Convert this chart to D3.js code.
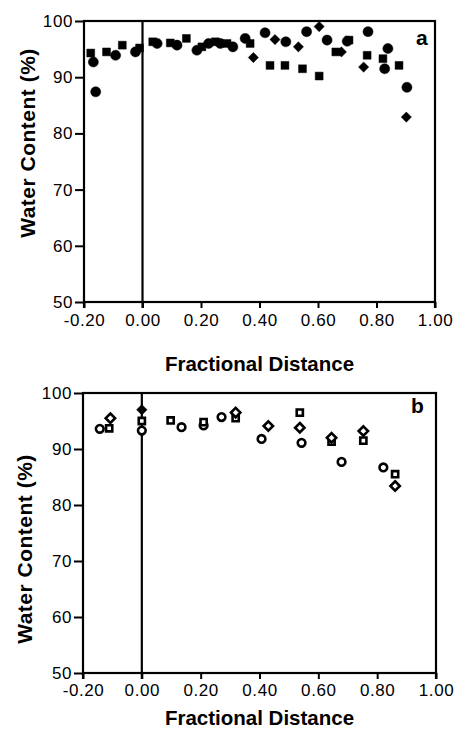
<!DOCTYPE html>
<html><head><meta charset="utf-8">
<script src="https://cdn.jsdelivr.net/npm/d3@7"></script>
<style>
html,body{margin:0;padding:0;background:#fff;}
svg{display:block;}
text{font-family:"Liberation Sans",Arial,Helvetica,sans-serif;fill:#000;}
</style></head>
<body>
<svg id="chart" width="456" height="740"></svg>
<script>
// ---- data ----
const xTicks = [-0.2, 0, 0.2, 0.4, 0.6, 0.8, 1.0];
const xTickLabels = ["-0.20", "0.00", "0.20", "0.40", "0.60", "0.80", "1.00"];
const yTicks = [50, 60, 70, 80, 90, 100];
const yTickLabels = ["50", "60", "70", "80", "90", "100"];
const xTitle = "Fractional Distance";
const yTitle = "Water Content (%)";

// panel a (filled symbols): [fractional distance, water content]
const aCircles = [[-0.168,92.7],[-0.160,87.4],[-0.092,93.9],[-0.024,94.5],[0.050,96.0],[0.118,95.7],[0.186,94.8],[0.226,96.0],[0.266,96.0],[0.309,95.4],[0.351,96.9],[0.419,97.9],[0.490,96.3],[0.561,98.1],[0.631,96.6],[0.700,96.4],[0.771,98.1],[0.839,95.1],[0.828,91.5],[0.904,88.2]];
const aSquares = [[-0.177,94.3],[-0.123,94.5],[-0.069,95.7],[-0.010,95.2],[0.035,96.3],[0.095,96.1],[0.150,96.9],[0.203,95.4],[0.249,96.3],[0.289,96.0],[0.368,96.0],[0.436,92.1],[0.487,92.1],[0.547,91.5],[0.604,90.2],[0.661,94.5],[0.706,96.6],[0.768,93.9],[0.822,93.3],[0.877,92.1]];
const aDiamonds = [[0.379,93.5],[0.453,96.7],[0.533,95.4],[0.604,99.0],[0.680,94.5],[0.756,91.8],[0.902,82.9]];

// panel b (open symbols)
const bCircles = [[-0.143,93.6],[0.000,93.3],[0.135,93.9],[0.210,94.2],[0.271,95.7],[0.407,91.8],[0.543,91.1],[0.679,87.7],[0.821,86.7]];
const bSquares = [[-0.111,93.7],[0.000,95.0],[0.098,95.1],[0.210,94.8],[0.319,95.5],[0.537,96.5],[0.645,91.3],[0.753,91.5],[0.861,85.5]];
const bDiamonds = [[-0.107,95.5],[0.319,96.5],[0.430,94.1],[0.537,93.8],[0.645,92.0],[0.753,93.2],[0.861,83.4]];
const bFilledDiamonds = [[0.000,97.0]];

// ---- drawing ----
const svg = d3.select("#chart");
const diamondType = {draw(ctx, size){ const r = Math.sqrt(size/2); ctx.moveTo(0,-r); ctx.lineTo(r,0); ctx.lineTo(0,r); ctx.lineTo(-r,0); ctx.closePath(); }};

function panel(cfg){
  const g = svg.append("g");
  const x = d3.scaleLinear().domain([-0.2, 1.0]).range([cfg.left, cfg.right]);
  const y = d3.scaleLinear().domain([50, 100]).range([cfg.bottom, cfg.top]);

  // x axis
  const xa = g.append("g").attr("transform", `translate(0,${cfg.bottom})`)
    .call(d3.axisBottom(x).tickValues(xTicks).tickFormat((d,i)=>xTickLabels[i]).tickSize(6).tickPadding(cfg.xPad).tickSizeOuter(0));
  xa.select(".domain").remove();
  xa.selectAll("line").attr("stroke","#000").attr("stroke-width",2);
  xa.selectAll("text").attr("font-size","17px").style("letter-spacing","0.6px");

  // y axis
  const ya = g.append("g").attr("transform", `translate(${cfg.left},0)`)
    .call(d3.axisLeft(y).tickValues(yTicks).tickFormat((d,i)=>yTickLabels[i]).tickSize(9).tickPadding(2).tickSizeOuter(0));
  ya.select(".domain").remove();
  ya.selectAll("line").attr("stroke","#000").attr("stroke-width",2);
  ya.selectAll("text").attr("font-size","17px").style("letter-spacing","0.6px");

  // frame
  g.append("rect").attr("x",x(-0.2)).attr("y",y(100)).attr("width",x(1)-x(-0.2)).attr("height",y(50)-y(100))
    .attr("fill","none").attr("stroke","#000").attr("stroke-width",2.2);
  [ -0.2, 1.0 ].forEach(v=>{
    g.append("line").attr("x1",x(v)).attr("x2",x(v)).attr("y1",y(50)).attr("y2",y(50)+6).attr("stroke","#000").attr("stroke-width",2.2);
  });
  // vertical line at 0
  g.append("line").attr("x1",x(0)).attr("x2",x(0)).attr("y1",y(100)).attr("y2",y(50)+6).attr("stroke","#000").attr("stroke-width",2.2);

  // series
  cfg.series.forEach(s=>{
    const sym = d3.symbol().type(s.type).size(s.size);
    g.append("g").selectAll("path").data(s.data).join("path")
      .attr("d", sym)
      .attr("transform", d=>`translate(${x(d[0])},${y(d[1])})`)
      .attr("fill", s.open ? "#fff" : "#000")
      .attr("stroke", "#000")
      .attr("stroke-width", s.open ? 2.6 : 0.5);
  });

  // titles
  g.append("text").attr("x",(cfg.left+cfg.right)/2).attr("y",cfg.xTitleY).attr("text-anchor","middle")
    .attr("font-size","20.5px").attr("font-weight","bold").text(xTitle);
  g.append("text").attr("transform",`translate(${cfg.yTitleX},${cfg.yTitleCy}) rotate(-90)`).attr("text-anchor","middle")
    .attr("font-size","21px").attr("font-weight","bold").style("letter-spacing","0.5px").text(yTitle);
  g.append("text").attr("x",cfg.labelX).attr("y",cfg.labelY).attr("font-size","21px").attr("font-weight","bold").text(cfg.label);
}

panel({left:84, right:435, top:21, bottom:302, xPad:6, xTitleY:371, yTitleX:35, yTitleCy:143, labelX:416, labelY:45, label:"a",
  series:[
    {data:aCircles, type:d3.symbolCircle, size:80, open:false},
    {data:aSquares, type:d3.symbolSquare, size:62, open:false},
    {data:aDiamonds, type:diamondType, size:52, open:false}
  ]});

panel({left:83, right:436, top:393, bottom:673, xPad:5, xTitleY:725, yTitleX:32, yTitleCy:549, labelX:411, labelY:413, label:"b",
  series:[
    {data:bCircles, type:d3.symbolCircle, size:46, open:true},
    {data:bSquares, type:d3.symbolSquare, size:38, open:true},
    {data:bDiamonds, type:diamondType, size:44, open:true},
    {data:bFilledDiamonds, type:diamondType, size:55, open:false}
  ]});
</script>
</body></html>
